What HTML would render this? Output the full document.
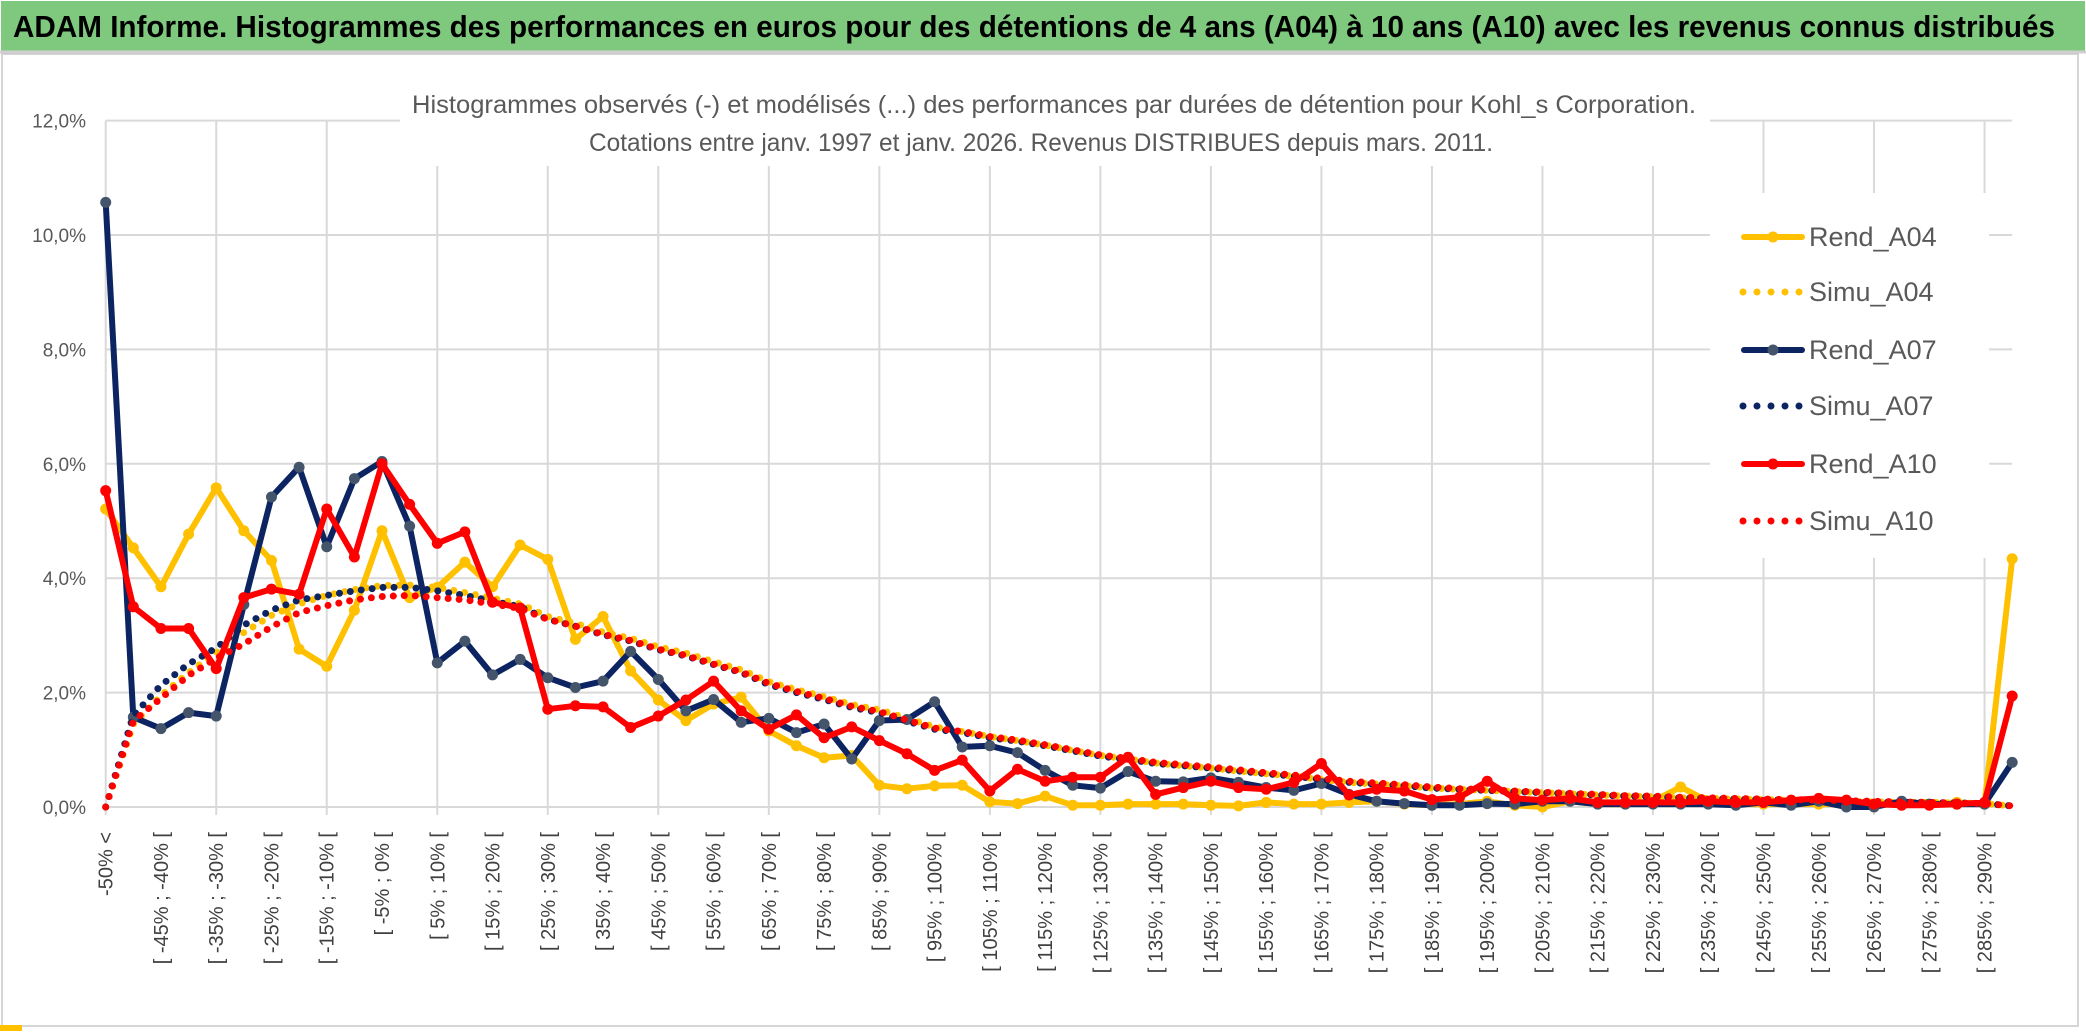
<!DOCTYPE html>
<html><head><meta charset="utf-8">
<style>
html,body{margin:0;padding:0;background:#fff;}
svg{display:block;}
text{font-family:"Liberation Sans",sans-serif;}
.narrow{font-family:"Liberation Sans Narrow","Liberation Sans",sans-serif;}
</style></head>
<body>
<svg id="chart" width="2086" height="1033" viewBox="0 0 2086 1033" xmlns="http://www.w3.org/2000/svg">
  <rect x="0" y="0" width="2086" height="1033" fill="#fff"/>
  <rect x="1" y="1" width="2084" height="50" fill="#7FC97F"/>
  <line x1="0" y1="52" x2="2086" y2="52" stroke="#d0d0d0" stroke-width="3"/>
  <text class="narrow" x="13" y="37" font-size="31" font-weight="bold" fill="#000" textLength="2042" lengthAdjust="spacingAndGlyphs">ADAM Informe. Histogrammes des performances en euros pour des détentions de 4 ans (A04) à 10 ans (A10) avec les revenus connus distribués</text>
  <rect x="2" y="54" width="2076" height="972" fill="none" stroke="#c8c8c8" stroke-width="1.5"/>
  <rect x="0" y="1025" width="22" height="6" fill="#FFC000"/>
  <g id="grid"></g>
  <g id="series"></g>
  <rect x="400" y="58" width="1310" height="108" fill="#fff"/>
  <text class="narrow" x="1054" y="113" font-size="25" fill="#595959" text-anchor="middle" textLength="1284" lengthAdjust="spacingAndGlyphs">Histogrammes observés (-) et modélisés (...) des performances par durées de détention pour Kohl_s Corporation.</text>
  <text class="narrow" x="1041" y="151" font-size="25" fill="#595959" text-anchor="middle" textLength="904" lengthAdjust="spacingAndGlyphs">Cotations entre janv. 1997 et janv. 2026. Revenus DISTRIBUES depuis mars. 2011.</text>
  <rect x="1710" y="193" width="279" height="365" fill="#fff"/>
  <g id="legend"></g>
  <g id="ylabels"></g>
  <g id="xlabels"></g>
</svg>
<script>
const rendA04 = [5.21,4.53,3.85,4.77,5.58,4.83,4.31,2.76,2.46,3.44,4.83,3.66,3.84,4.28,3.85,4.58,4.33,2.93,3.33,2.38,1.87,1.51,1.80,1.92,1.33,1.07,0.86,0.90,0.38,0.32,0.37,0.38,0.09,0.06,0.19,0.03,0.03,0.05,0.05,0.05,0.03,0.02,0.08,0.05,0.05,0.08,0.10,0.05,0.03,0.05,0.10,0.03,0.00,0.10,0.05,0.05,0.10,0.35,0.10,0.05,0.05,0.05,0.05,0.05,0.05,0.05,0.05,0.08,0.05,4.34];
const rendA07 = [10.57,1.57,1.37,1.65,1.59,3.54,5.42,5.94,4.55,5.74,6.04,4.91,2.52,2.90,2.31,2.58,2.26,2.09,2.20,2.72,2.23,1.68,1.88,1.48,1.55,1.30,1.45,0.84,1.51,1.53,1.84,1.05,1.07,0.95,0.64,0.38,0.33,0.62,0.45,0.44,0.51,0.43,0.34,0.29,0.41,0.22,0.10,0.06,0.03,0.03,0.06,0.05,0.10,0.10,0.05,0.05,0.05,0.05,0.05,0.03,0.08,0.03,0.10,0.00,0.00,0.10,0.05,0.05,0.05,0.78];
const rendA10 = [5.53,3.50,3.12,3.12,2.42,3.66,3.81,3.72,5.21,4.37,6.00,5.29,4.61,4.81,3.58,3.48,1.71,1.77,1.75,1.39,1.59,1.87,2.20,1.68,1.36,1.61,1.21,1.40,1.16,0.93,0.64,0.82,0.28,0.66,0.45,0.52,0.52,0.87,0.22,0.34,0.45,0.34,0.31,0.43,0.76,0.21,0.31,0.28,0.13,0.17,0.45,0.15,0.12,0.15,0.08,0.08,0.08,0.08,0.10,0.08,0.08,0.12,0.15,0.12,0.05,0.03,0.03,0.05,0.08,1.94];
const simuA04 = [0,1.45,1.95,2.35,2.70,3.05,3.35,3.55,3.70,3.80,3.87,3.88,3.84,3.75,3.65,3.55,3.33,3.21,3.06,2.95,2.80,2.69,2.54,2.40,2.19,2.05,1.93,1.79,1.70,1.55,1.40,1.32,1.23,1.16,1.08,0.99,0.90,0.84,0.77,0.72,0.68,0.63,0.58,0.54,0.48,0.43,0.40,0.37,0.33,0.31,0.29,0.27,0.25,0.23,0.21,0.19,0.18,0.16,0.15,0.14,0.13,0.12,0.11,0.10,0.09,0.08,0.08,0.07,0.06,0.02];
const simuA07 = [0,1.60,2.13,2.50,2.78,3.18,3.44,3.62,3.70,3.78,3.84,3.84,3.78,3.70,3.60,3.50,3.28,3.16,3.01,2.90,2.75,2.64,2.49,2.35,2.14,2.00,1.88,1.74,1.65,1.50,1.36,1.30,1.21,1.15,1.07,0.98,0.89,0.83,0.76,0.72,0.68,0.63,0.58,0.54,0.48,0.43,0.40,0.37,0.33,0.31,0.29,0.27,0.25,0.23,0.21,0.19,0.18,0.16,0.15,0.14,0.13,0.12,0.11,0.10,0.09,0.08,0.08,0.07,0.06,0.02];
const simuA10 = [0,1.50,1.90,2.30,2.60,2.85,3.15,3.40,3.52,3.62,3.68,3.70,3.66,3.62,3.55,3.47,3.28,3.16,3.02,2.91,2.76,2.65,2.50,2.36,2.16,2.02,1.90,1.76,1.67,1.52,1.38,1.32,1.23,1.17,1.09,1.00,0.91,0.85,0.78,0.74,0.70,0.65,0.60,0.56,0.50,0.45,0.42,0.39,0.35,0.32,0.30,0.28,0.26,0.24,0.22,0.20,0.19,0.17,0.16,0.15,0.14,0.13,0.12,0.11,0.10,0.09,0.08,0.07,0.06,0.02];
const binLow = [-50,-45,-40,-35,-30,-25,-20,-15,-10,-5,0,5,10,15,20,25,30,35,40,45,50,55,60,65,70,75,80,85,90,95,100,105,110,115,120,125,130,135,140,145,150,155,160,165,170,175,180,185,190,195,200,205,210,215,220,225,230,235,240,245,250,255,260,265,270,275,280,285,290];
const yTicks = [0,2,4,6,8,10,12];
const yTickLabels = ["0,0%","2,0%","4,0%","6,0%","8,0%","10,0%","12,0%"];

const NS = "http://www.w3.org/2000/svg";
const X0 = 105.7, STEP = 27.63, Y0 = 807, YK = 57.2;
function xs(i){ return X0 + i*STEP; }
function ys(v){ return Y0 - v*YK; }
function mk(tag, attrs, parent){ const e=document.createElementNS(NS,tag); for(const k in attrs) e.setAttribute(k,attrs[k]); parent.appendChild(e); return e; }

const categories = ["-50% <"].concat(binLow.map(b => "[ " + b + "% ; " + (b+5) + "% ["));

// gridlines
const grid = document.getElementById('grid');
const nCat = categories.length;
yTicks.forEach(t => {
  const l = mk('line',{x1:X0,x2:xs(nCat-1),y1:ys(t),y2:ys(t),stroke:'#d9d9d9','stroke-width':2},grid);
  
  
});
for(let i=0;i<nCat;i+=4){
  const l = mk('line',{x1:xs(i),x2:xs(i),y1:ys(12),y2:ys(0)+8,stroke:'#d9d9d9','stroke-width':2},grid);
  
  
}

// y labels
const yl = document.getElementById('ylabels');
yTicks.forEach((t,k) => {
  const tx = mk('text',{x:86,y:ys(t)+7,'font-size':19,fill:'#595959','text-anchor':'end'},yl);
  tx.textContent = yTickLabels[k];
  
  
});

// x labels
const xl = document.getElementById('xlabels');
for(let i=0;i<nCat;i+=2){
  const x = xs(i)+7, y = 832;
  const tx = mk('text',{x:x,y:y,'font-size':20,fill:'#404040','text-anchor':'end',transform:'rotate(-90 '+x+' '+y+')'},xl);
  tx.textContent = categories[i];
  
  
}

// series
const sg = document.getElementById('series');
function pts(arr){ return arr.map((v,i)=>xs(i).toFixed(1)+','+ys(v).toFixed(1)).join(' '); }
function drawRend(arr,color,mcolor,name){
  const g = mk('g',{},sg);
  
  
  const pl = mk('polyline',{points:pts(arr),fill:'none',stroke:color,'stroke-width':6,'stroke-linejoin':'round'},g);
  
  
  arr.forEach((v,i)=>{
    const c = mk('circle',{cx:xs(i),cy:ys(v),r:5.5,fill:mcolor},g);
    
    
  });
}
function drawSimu(arr,color,name){
  const pl = mk('polyline',{points:pts(arr),fill:'none',stroke:color,'stroke-width':7,'stroke-linecap':'round','stroke-dasharray':'0 11'},sg);
  
  
}
drawRend(rendA04,'#FFC000','#FFC000','rend-a04');
drawSimu(simuA04,'#FFC000','simu-a04');
drawRend(rendA07,'#0C2461','#44546A','rend-a07');
drawSimu(simuA07,'#0C2461','simu-a07');
drawRend(rendA10,'#FF0000','#FF0000','rend-a10');
drawSimu(simuA10,'#FF0000','simu-a10');

// legend
const lg = document.getElementById('legend');
const legendItems = [
  ['Rend_A04','#FFC000','#FFC000',false,237],
  ['Simu_A04','#FFC000','#FFC000',true,292],
  ['Rend_A07','#0C2461','#44546A',false,350],
  ['Simu_A07','#0C2461','#0C2461',true,406],
  ['Rend_A10','#FF0000','#FF0000',false,464],
  ['Simu_A10','#FF0000','#FF0000',true,521]
];
legendItems.forEach(it => {
  const g = mk('g',{},lg);
  
  
  const y = it[4];
  if(it[3]){
    mk('line',{x1:1743,x2:1800,y1:y,y2:y,stroke:it[1],'stroke-width':7,'stroke-linecap':'round','stroke-dasharray':'0 14'},g);
  } else {
    mk('line',{x1:1744,x2:1802,y1:y,y2:y,stroke:it[1],'stroke-width':6,'stroke-linecap':'round'},g);
    mk('circle',{cx:1773,cy:y,r:5.5,fill:it[2]},g);
  }
  const t = mk('text',{x:1809,y:y+9,'font-size':27,fill:'#595959','class':'narrow'},g);
  t.textContent = it[0];
});
</script>
</body></html>
